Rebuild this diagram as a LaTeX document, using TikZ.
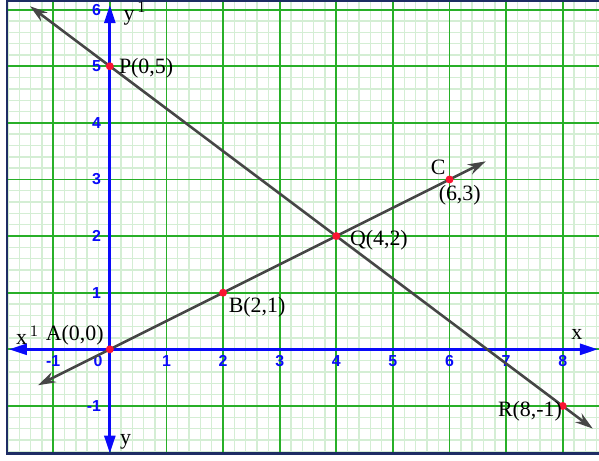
\documentclass[tikz,border=0pt]{standalone}
\usepackage{fontspec}
\setmainfont{Liberation Serif}
\newfontfamily\tickfont{Liberation Sans}
\usetikzlibrary{arrows.meta,positioning}
\definecolor{gridminor}{RGB}{212,238,212}
\definecolor{gridmajor}{RGB}{40,175,40}
\definecolor{axisblue}{RGB}{10,10,250}
\definecolor{linegray}{RGB}{70,70,70}
\definecolor{framenavy}{RGB}{30,45,100}
\definecolor{dotred}{RGB}{250,20,50}
\tikzset{
  minorgrid/.style={gridminor, line width=0.7pt},
  majorgrid/.style={gridmajor, line width=0.9pt},
  axis/.style={axisblue, line width=1.4pt, {Triangle[length=9pt,width=5.5pt]}-{Triangle[length=9pt,width=5.5pt]}},
  graphline/.style={linegray, line width=1.3pt, {Stealth[length=9pt,width=5.5pt]}-{Stealth[length=9pt,width=5.5pt]}},
  dot/.style={dotred},
  lbl/.style={font=\fontsize{11}{12}\selectfont, inner sep=1pt},
  tick/.style={font=\tickfont\bfseries\fontsize{8}{9}\selectfont, text=axisblue, inner sep=0pt}
}
\begin{document}
\begin{tikzpicture}[x=1cm,y=1cm]
\useasboundingbox (-1.94,-1.96) rectangle (8.64,6.17);
% grille
\draw[minorgrid] (-1.82,-1.84) grid[step=0.2] (8.64,6.15);
\draw[majorgrid] (-1.82,-1.84) grid[step=1] (8.64,6.15);
\draw[framenavy, line width=1.2pt] (8.64,6.15) -- (-1.82,6.15) -- (-1.82,-1.84) -- (8.64,-1.84);
% axes
\coordinate (xl) at (-1.78,0);
\coordinate (xr) at (8.62,0);
\coordinate (yb) at (0,-1.84);
\coordinate (yt) at (0,6.08);
\draw[axis] (xl) -- (xr);
\draw[axis] (yb) -- (yt);
\foreach \i in {-1,1,2,...,8}
  \node[tick] (tx\i) at (\i,-0.21) {\i};
\node[tick] (tx0) at (-0.21,-0.21) {0};
\foreach \j in {-1,1,2,...,6}
  \node[tick, anchor=east] (ty\j) at (-0.15,\j) {\j};
\node[lbl] (xlab1) at (-1.45,0.24) {x$^{\,1}$};
\node[lbl] (xlab) at (8.25,0.27) {x};
\node[lbl] (ylab1) at (0.45,5.92) {y$^{\,1}$};
\node[lbl] (ylab) at (0.28,-1.63) {y};
% les points
\coordinate (P) at (0,5);
\coordinate (Q) at (4,2);
\coordinate (R) at (8,-1);
\coordinate (A) at (0,0);
\coordinate (B) at (2,1);
\coordinate (C) at (6,3);
% les droites
\coordinate (pr1) at (-1.41,6.06);
\coordinate (pr2) at (8.53,-1.40);
\coordinate (ac1) at (-1.27,-0.635);
\coordinate (ac2) at (6.64,3.32);
\draw[graphline] (pr1) -- (pr2);
\draw[graphline] (ac1) -- (ac2);
\foreach \p in {P,Q,R,A,B,C}
  \fill[dot] (\p) circle (2pt);
\node[lbl, anchor=west] (labP) at (0.12,4.96) {P(0,5)};
\node[lbl, anchor=west] (labQ) at (4.2,1.93) {Q(4,2)};
\node[lbl] (labB) at (2.6,0.74) {B(2,1)};
\node[lbl] (labA) at (-0.62,0.24) {A(0,0)};
\node[lbl] (labC) at (5.8,3.22) {C};
\node[lbl] (labC2) at (6.18,2.72) {(6,3)};
\node[lbl] (labR) at (7.42,-1.1) {R(8,-1)};
\end{tikzpicture}
\end{document}
